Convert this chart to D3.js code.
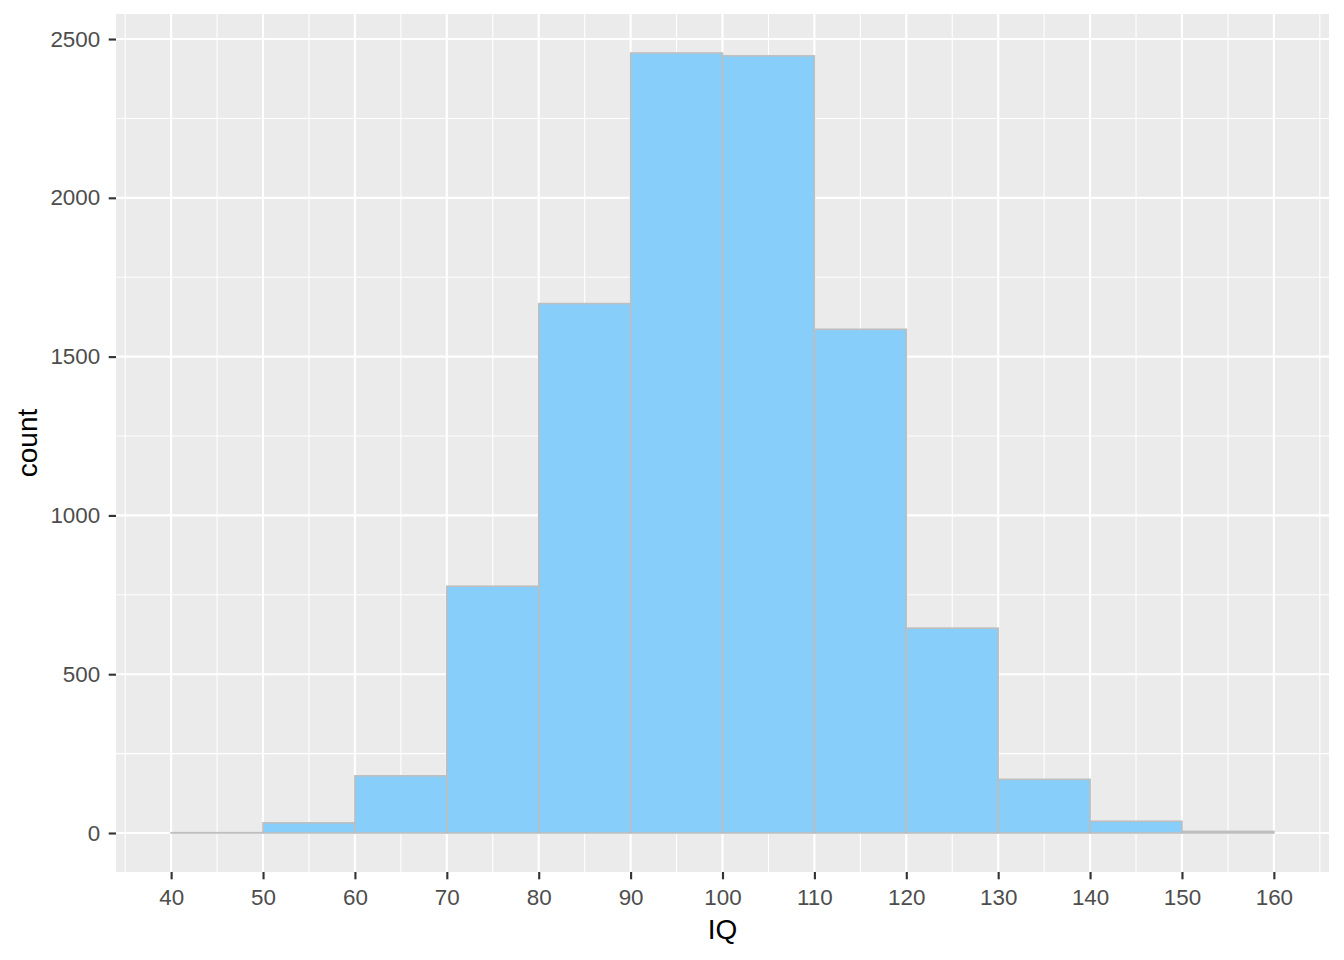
<!DOCTYPE html>
<html><head><meta charset="utf-8">
<script src="https://cdn.jsdelivr.net/npm/d3@7"></script>
<style>body{margin:0;background:#fff}</style></head>
<body><svg id="c" width="1344" height="960"></svg>
<script>
const binStarts = [40,50,60,70,80,90,100,110,120,130,140,150];
const binWidth = 10;
const counts = [1,32,180,777,1667,2456,2447,1586,645,169,37,5];
const xTicks = [40,50,60,70,80,90,100,110,120,130,140,150,160];
const yTicks = [0,500,1000,1500,2000,2500];
const xMinor = [35,45,55,65,75,85,95,105,115,125,135,145,155,165];
const yMinor = [250,750,1250,1750,2250];

const svg = d3.select("#c");
const L=116, R=1329, T=14, B=872;
const FONT = "'Liberation Sans', Arial, sans-serif";
const x = d3.scaleLinear().domain([34,166]).range([L,R]);
const ymax = d3.max(counts);
const y = d3.scaleLinear().domain([-ymax*0.05, ymax*1.05]).range([B,T]);

svg.append("rect").attr("x",L).attr("y",T).attr("width",R-L).attr("height",B-T).attr("fill","#EBEBEB");
const g = svg.append("g");
g.selectAll(".xm").data(xMinor).join("line").attr("x1",d=>x(d)).attr("x2",d=>x(d)).attr("y1",T).attr("y2",B).attr("stroke","#fff").attr("stroke-width",1.07);
g.selectAll(".ym").data(yMinor).join("line").attr("y1",d=>y(d)).attr("y2",d=>y(d)).attr("x1",L).attr("x2",R).attr("stroke","#fff").attr("stroke-width",1.07);
g.selectAll(".xM").data(xTicks).join("line").attr("x1",d=>x(d)).attr("x2",d=>x(d)).attr("y1",T).attr("y2",B).attr("stroke","#fff").attr("stroke-width",2.13);
g.selectAll(".yM").data(yTicks).join("line").attr("y1",d=>y(d)).attr("y2",d=>y(d)).attr("x1",L).attr("x2",R).attr("stroke","#fff").attr("stroke-width",2.13);

svg.append("g").selectAll("rect").data(binStarts).join("rect")
  .attr("x",d=>x(d)).attr("width",d=>x(d+binWidth)-x(d))
  .attr("y",(d,i)=>y(counts[i])).attr("height",(d,i)=>y(0)-y(counts[i]))
  .attr("fill","#87CEFA").attr("stroke","#BEBEBE").attr("stroke-width",1.6);

const xa = svg.append("g").attr("transform",`translate(0,${B})`)
  .call(d3.axisBottom(x).tickValues(xTicks).tickFormat(d3.format("d")).tickSize(7.3).tickPadding(9.7));
const ya = svg.append("g").attr("transform",`translate(${L},0)`)
  .call(d3.axisLeft(y).tickValues(yTicks).tickFormat(d3.format("d")).tickSize(7.3).tickPadding(8.5));
[xa,ya].forEach(a=>{
  a.select(".domain").remove();
  a.selectAll(".tick line").attr("stroke","#333333").attr("stroke-width",2.13);
  a.selectAll(".tick text").attr("fill","#4D4D4D").style("font-family",FONT).style("font-size","22.4px");
});
svg.append("text").attr("x",(L+R)/2).attr("y",939).attr("text-anchor","middle")
  .style("font-family",FONT).style("font-size","28px").attr("fill","#000").text("IQ");
svg.append("text").attr("transform",`translate(36.7,${(T+B)/2}) rotate(-90)`).attr("text-anchor","middle")
  .style("font-family",FONT).style("font-size","28px").attr("fill","#000").text("count");
</script></body></html>
